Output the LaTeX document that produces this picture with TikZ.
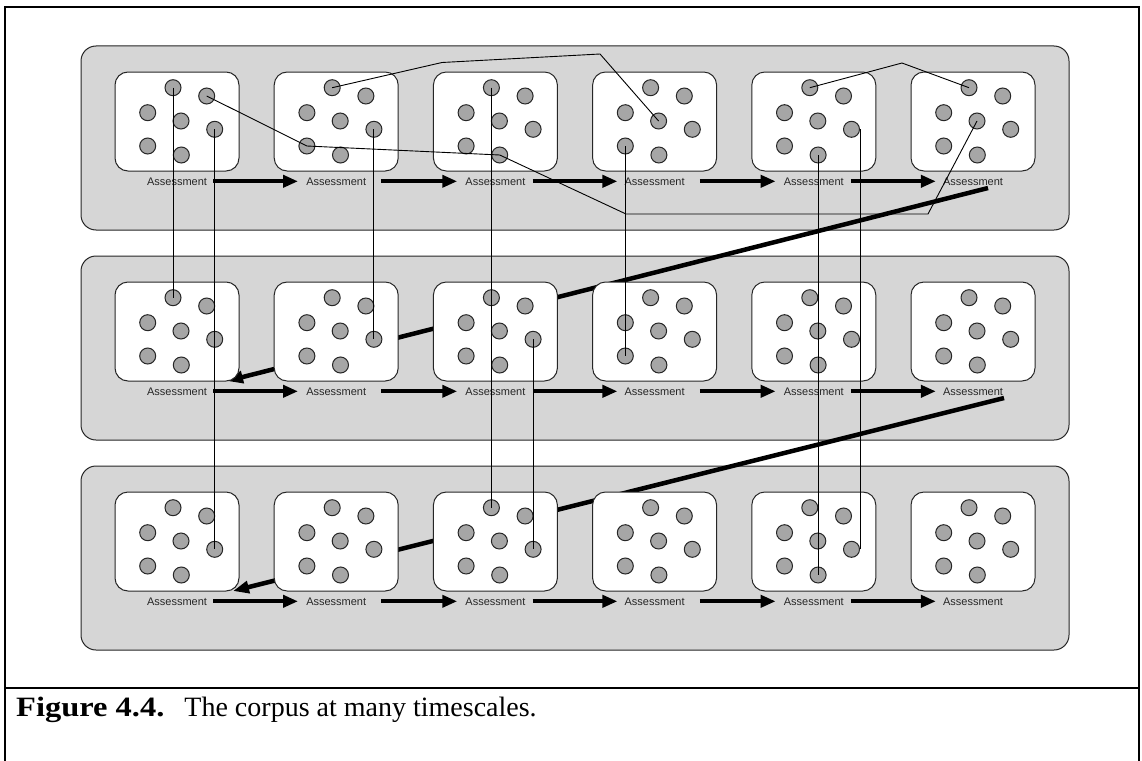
\documentclass[tikz,border=0pt]{standalone}
\usepackage{fontspec}
\setmainfont{Liberation Serif}
\newfontfamily\labfont{Liberation Sans}
\usetikzlibrary{arrows.meta}
\definecolor{panelgray}{HTML}{D6D6D6}
\definecolor{dotgray}{HTML}{A6A6A6}
\definecolor{edgegray}{HTML}{262626}
\begin{document}
\begin{tikzpicture}[x=1pt,y=-1pt,
  frame/.style={line width=2pt, draw=black},
  panel/.style={draw=edgegray, line width=1pt, fill=panelgray, rounded corners=15pt},
  card/.style={draw=edgegray, line width=1pt, fill=white, rounded corners=13pt,
    minimum width=124pt, minimum height=99pt, inner sep=0pt},
  dot/.style={circle, draw=edgegray, line width=1pt, fill=dotgray, minimum size=16pt, inner sep=0pt},
  lab/.style={font=\labfont\fontsize{11}{13}\selectfont, text=black!85, inner sep=0pt},
  flow/.style={line width=4pt, -{Triangle[length=15pt,width=12pt]}},
  jump/.style={line width=4.5pt, -{Triangle[length=16pt,width=12pt]}},
  link/.style={line width=0.9pt, draw=black}
]
\useasboundingbox (0,0) rectangle (1142,760);
% outer frame
\draw[frame] (5,761) -- (5,7) -- (1139,7) -- (1139,761);
\draw[frame] (5,688) -- (1139,688);
% panels
\draw[panel] (81,46) rectangle (1069,230);
\draw[panel] (81,256) rectangle (1069,440);
\draw[panel] (81,466) rectangle (1069,650);
% thick jump arrows (behind cards)
\coordinate (j1s) at (988,188);
\coordinate (j1e) at (227,381);
\coordinate (j2s) at (1004,398);
\coordinate (j2e) at (233,591);
\draw[jump] (j1s) -- (j1e);
\draw[jump] (j2s) -- (j2e);
% cards, dots, labels
\foreach \r/\top in {1/72,2/282,3/492}{
  \foreach \b in {1,...,6}{
    \pgfmathsetmacro{\lx}{115+159.2*(\b-1)}
    \node[card] (b\r\b) at (\lx+62,\top+49.5) {};
    \foreach \k/\dx/\dy in {1/58/15.7,2/91.7/24,3/32.7/40.7,4/66/49,5/99.7/57.3,6/32.7/74,7/66.3/83}{
      \node[dot] (c\r\b\k) at (\lx+\dx,\top+\dy) {};
    }
    \node[lab] (l\r\b) at (\lx+62,\top+109.3) {Assessment};
  }
}
% flow arrows between assessments
\foreach \r in {1,2,3}{
  \foreach \b/\n/\sa/\sb in {1/2/6/8,2/3/15/8,3/4/7/7,4/5/15/8,5/6/7/7}{
    \draw[flow, shorten <=\sa pt, shorten >=\sb pt] (l\r\b.east) -- (l\r\n.west);
  }
}
% thin links
\coordinate (cb1) at (626,214);
\coordinate (cb2) at (928,214);
\coordinate (db1) at (442,62.5);
\coordinate (db2) at (600,54);
\coordinate (hb) at (902,63);
\draw[link] (c111.center) -- (c211.center);
\draw[link] (c115.center) -- (c315.center);
\draw[link] (c112.center) -- (c126.center) -- (c137.center) -- (cb1) -- (cb2) -- (c164.center);
\draw[link] (c121.center) -- (db1) -- (db2) -- (c144.center);
\draw[link] (c125.center) -- (c225.center);
\draw[link] (c131.center) -- (c331.center);
\draw[link] (c146.center) -- (c246.center);
\draw[link] (c151.center) -- (hb) -- (c161.center);
\draw[link] (c157.center) -- (c357.center);
\draw[link] (c155.east) -- (c355.east);
\draw[link] (c235.center) -- (c335.center);
% caption
\node[anchor=base west, inner sep=0pt] (cap) at (16,716)
  {\fontsize{28}{34}\selectfont\scalebox{1.16}[1]{\textbf{Figure 4.4.}}\hspace{20pt}The corpus at many timescales.};
\end{tikzpicture}
\end{document}
